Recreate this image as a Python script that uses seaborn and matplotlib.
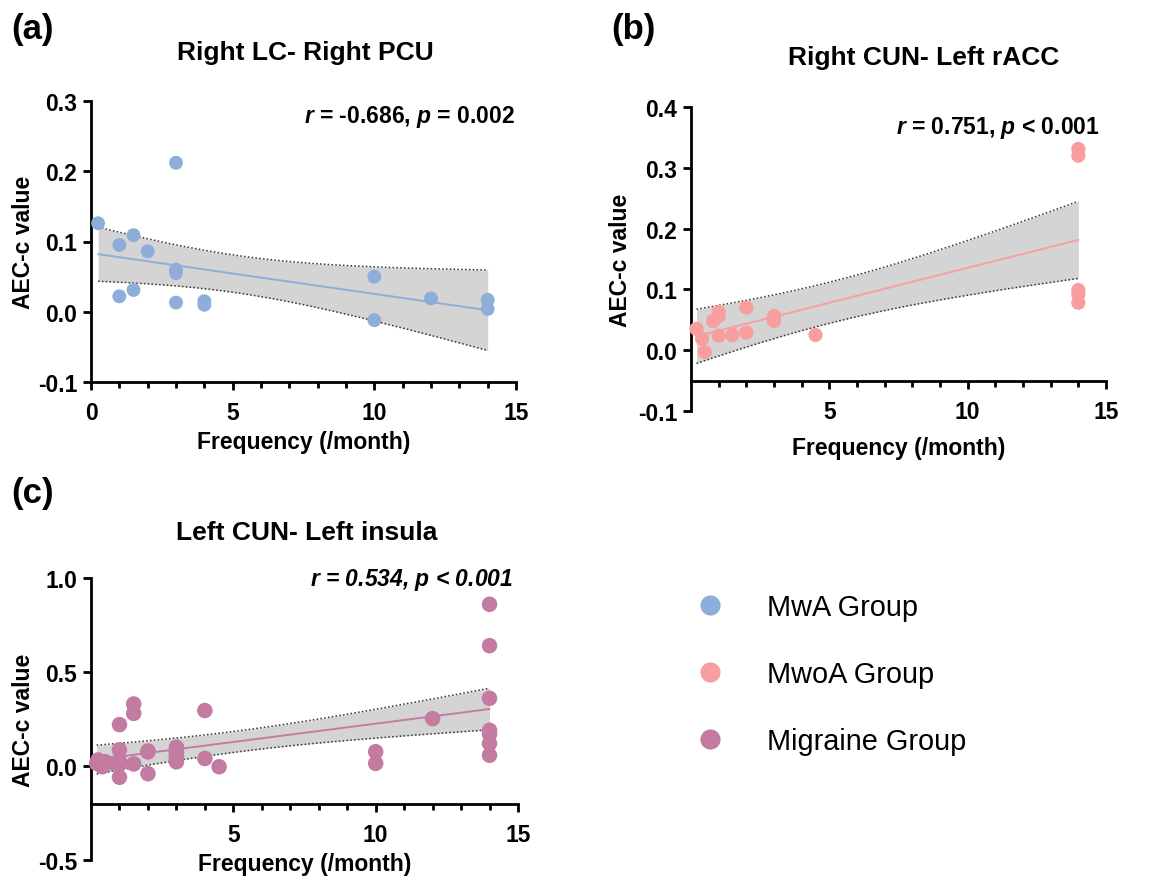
import numpy as np
import pandas as pd
import matplotlib
matplotlib.use("Agg")
import matplotlib.pyplot as plt
from matplotlib.lines import Line2D
from matplotlib.ticker import FixedLocator, FormatStrFormatter
import seaborn as sns

sns.set_theme(style="white")
plt.rcParams['font.family'] = ['Liberation Sans', 'DejaVu Sans']
plt.rcParams['mathtext.fontset'] = 'custom'
plt.rcParams['mathtext.rm'] = 'Liberation Sans:bold'
plt.rcParams['mathtext.it'] = 'Liberation Sans:bold:italic'
plt.rcParams['mathtext.bf'] = 'Liberation Sans:bold'
for key in ('text.color', 'axes.labelcolor', 'xtick.color', 'ytick.color'):
    plt.rcParams[key] = 'black'

# ---------------- data ----------------
mwa_freq = [0.25, 1, 1.5, 2, 3, 3, 3, 1, 1.5, 3, 4, 4, 10, 10, 12, 14, 14]
mwa_aec = [0.126, 0.095, 0.109, 0.086, 0.212, 0.060, 0.055, 0.022, 0.031,
           0.013, 0.015, 0.010, 0.050, -0.012, 0.019, 0.017, 0.004]

mwoa_freq = [0.2, 0.4, 0.5, 0.8, 1, 1, 1, 1.5, 2, 2, 3, 3, 4.5, 14, 14, 14, 14, 14]
mwoa_aec = [0.035, 0.019, -0.003, 0.048, 0.063, 0.056, 0.024, 0.025, 0.070,
            0.029, 0.056, 0.048, 0.025, 0.331, 0.320, 0.099, 0.092, 0.078]

mig_freq = [0.2, 0.25, 0.4, 0.5, 0.8,
            1, 1, 1, 1, 1,
            1.5, 1.5, 1.5,
            2, 2, 2,
            3, 3, 3, 3, 3, 3,
            4, 4, 4.5, 10, 10, 12,
            14, 14, 14, 14, 14, 14, 14]
mig_aec = [0.014, 0.032, -0.004, 0.023, 0.014,
           0.220, 0.086, 0.023, 0.010, -0.060,
           0.330, 0.280, 0.011,
           0.080, 0.075, -0.041,
           0.100, 0.085, 0.070, 0.055, 0.040, 0.022,
           0.295, 0.040, -0.004, 0.076, 0.014, 0.252,
           0.860, 0.640, 0.360, 0.190, 0.170, 0.120, 0.057]

titles = ["Right LC- Right PCU", "Right CUN- Left rACC", "Left CUN- Left insula"]
stats_text = [r"$r$ = -0.686, $p$ = 0.002", r"$r$ = 0.751, $p$ < 0.001",
              r"$r$ = 0.534, $p$ < 0.001"]
panel_tags = ["(a)", "(b)", "(c)"]
legend_labels = ["MwA Group", "MwoA Group", "Migraine Group"]
colors = ["#8DAED8", "#F99E9E", "#C47BA1"]
t_crit = {15: 2.131, 16: 2.120, 33: 2.035}  # Student t 0.975 quantiles

W, H = 1174, 879
fig = plt.figure(figsize=(W / 100, H / 100), dpi=100)


def add_ax(l, r, t, b):
    return fig.add_axes([l / W, 1 - b / H, (r - l) / W, (b - t) / H])


def fit_band(x, y):
    x = np.asarray(x, float)
    y = np.asarray(y, float)
    n = len(x)
    slope, icpt = np.polyfit(x, y, 1)
    xs = np.linspace(x.min(), x.max(), 200)
    yhat = icpt + slope * xs
    resid = y - (icpt + slope * x)
    s = np.sqrt(np.sum(resid ** 2) / (n - 2))
    sxx = np.sum((x - x.mean()) ** 2)
    se = s * np.sqrt(1 / n + (xs - x.mean()) ** 2 / sxx)
    tc = t_crit[n - 2]
    return xs, yhat, yhat - tc * se, yhat + tc * se


def draw_panel(ax, x, y, color, ylim, yticks, xaxis_at, xmajor, msize):
    xs, yhat, lo, hi = fit_band(x, y)
    ax.fill_between(xs, lo, hi, color="#D4D4D4", lw=0, zorder=1)
    band = pd.DataFrame({"x": xs, "fit": yhat, "lo": lo, "hi": hi})
    sns.lineplot(data=band, x="x", y="lo", ax=ax, color="#333333", lw=1.1,
                 linestyle=(0, (1, 1.5)), zorder=2)
    sns.lineplot(data=band, x="x", y="hi", ax=ax, color="#333333", lw=1.1,
                 linestyle=(0, (1, 1.5)), zorder=2)
    sns.lineplot(data=band, x="x", y="fit", ax=ax, color=color, lw=1.4, zorder=3)
    pts = pd.DataFrame({"x": x, "y": y})
    sns.scatterplot(data=pts, x="x", y="y", ax=ax, color=color, s=msize,
                    edgecolor="none", zorder=4, clip_on=False)
    ax.set_xlim(0, 15)
    ax.set_ylim(*ylim)
    ax.set_yticks(yticks)
    ax.yaxis.set_major_formatter(FormatStrFormatter("%.1f"))
    ax.xaxis.set_major_locator(FixedLocator(xmajor))
    ax.xaxis.set_minor_locator(FixedLocator([i for i in range(1, 15) if i not in xmajor]))
    ax.spines["top"].set_visible(False)
    ax.spines["right"].set_visible(False)
    for sp in ("left", "bottom"):
        ax.spines[sp].set_linewidth(2.0)
        ax.spines[sp].set_color("black")
    ax.spines["bottom"].set_position(("data", xaxis_at))
    ax.tick_params(which="major", length=6, width=2.0, color="black",
                   labelsize=16.5, pad=4, bottom=True, left=True)
    ax.tick_params(axis="x", which="major", pad=8)
    ax.tick_params(which="minor", length=4.5, width=2.0, color="black", bottom=True)
    for lab in ax.get_xticklabels() + ax.get_yticklabels():
        lab.set_fontweight("bold")
    ax.set_facecolor("none")
    ax.set_ylabel("AEC-c value", fontsize=16.5, fontweight="bold", labelpad=2)
    ax.set_xlabel("Frequency (/month)", fontsize=16.5, fontweight="bold", labelpad=4)
    ax.grid(False)


ax_a = add_ax(91, 516, 102, 383)
draw_panel(ax_a, mwa_freq, mwa_aec, colors[0], (-0.1, 0.3),
           [-0.1, 0.0, 0.1, 0.2, 0.3], -0.1, [0, 5, 10, 15], 100)

ax_b = add_ax(691, 1106, 108, 412)
draw_panel(ax_b, mwoa_freq, mwoa_aec, colors[1], (-0.1, 0.4),
           [-0.1, 0.0, 0.1, 0.2, 0.3, 0.4], -0.05, [5, 10, 15], 105)
ax_b.xaxis.labelpad = 9
ax_b.yaxis.labelpad = 4

ax_c = add_ax(91, 518, 579, 861)
draw_panel(ax_c, mig_freq, mig_aec, colors[2], (-0.5, 1.0),
           [-0.5, 0.0, 0.5, 1.0], -0.2, [5, 10, 15], 125)
ax_c.xaxis.labelpad = 4

# panel tags, titles, stats
for (tx, ty), tag in zip([(11, 30), (611, 30), (11, 493)], panel_tags):
    fig.text(tx / W, 1 - ty / H, tag, fontsize=25, fontweight="bold",
             ha="left", va="center")
for (tx, ty), ttl in zip([(305, 53), (924, 58), (307, 533)], titles):
    fig.text(tx / W, 1 - ty / H, ttl, fontsize=19, fontweight="bold",
             ha="center", va="center")
fig.text(515 / W, 1 - 117 / H, stats_text[0], fontsize=16.5, fontweight="bold",
         ha="right", va="center")
fig.text(1100 / W, 1 - 128 / H, stats_text[1], fontsize=16.5, fontweight="bold",
         ha="right", va="center")
fig.text(513 / W, 1 - 580 / H, stats_text[2], fontsize=16.5, fontweight="bold",
         fontstyle="italic", ha="right", va="center")

handles = [Line2D([], [], marker="o", ls="", color=c, markersize=14.5,
                  markeredgewidth=0) for c in colors]
fig.legend(handles, legend_labels, loc="upper left",
           bbox_to_anchor=(696 / W, 1 - 594 / H), frameon=False, fontsize=20.8,
           labelspacing=1.35, handlelength=1.0, handletextpad=1.45,
           borderaxespad=0, borderpad=0)

fig.savefig("out.png", dpi=100)
